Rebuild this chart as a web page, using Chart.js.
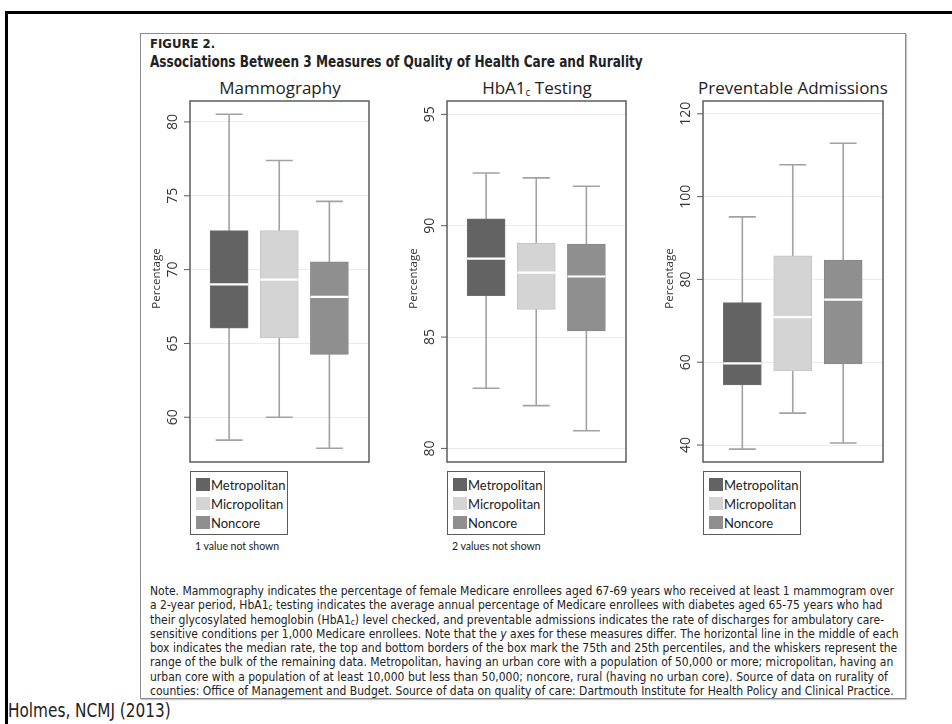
<!DOCTYPE html>
<html>
<head>
<meta charset="utf-8">
<script src="https://cdn.jsdelivr.net/npm/chart.js@4.4.1/dist/chart.umd.min.js"></script>
<style>
  body { margin: 0; width: 952px; height: 724px; background: #fff; position: relative; overflow: hidden; font-family: "Open Sans", sans-serif; color: #222; }
  .abs { position: absolute; }
  #frame-top { left: 5px; top: 11px; width: 947px; height: 3px; background: #000; }
  #frame-left { left: 5px; top: 11px; width: 3px; height: 713px; background: #000; }
  #figure { left: 140px; top: 33px; width: 764px; height: 664px; border: 1px solid #8c8c8c; box-shadow: 1px 1px 1px #c8c8c8; }
  .narrow { font-family: "Liberation Sans Narrow", "DejaVu Sans Condensed", sans-serif; white-space: nowrap; transform-origin: left top; }
  #fig-label { left: 150px; top: 36px; font-size: 13px; font-weight: bold; }
  #fig-title { left: 150px; top: 52px; font-size: 16px; font-weight: bold; transform: scaleX(0.84); }
  .ptitle { top: 76px; width: 240px; text-align: center; font-size: 17px; color: #222; white-space: nowrap; }
  .ptitle sub { font-size: 10px; vertical-align: -2px; }
  canvas { position: absolute; top: 99px; }
  .legend { top: 471px; width: 96px; height: 62px; border: 1.5px solid #5a5a5a; font-family: Lato, sans-serif; font-size: 13px; }
  .legend div { position: absolute; left: 20px; height: 16px; line-height: 16px; white-space: nowrap; }
  .legend span { position: absolute; left: -15px; top: 1px; width: 14px; height: 13px; }
  .foot { top: 540px; font-size: 10.5px; font-family: Lato, sans-serif; }
  #note { left: 150px; top: 584px; font-size: 12px; line-height: 14.3px; color: #222; }
  #note sub { font-size: 8px; vertical-align: -1px; line-height: 0; }
  #source { left: 8px; top: 698px; font-size: 20px; transform: scaleX(0.85); }
</style>
</head>
<body>
<div id="frame-top" class="abs"></div>
<div id="frame-left" class="abs"></div>
<div id="figure" class="abs"></div>
<div id="fig-label" class="abs narrow">FIGURE 2.</div>
<div id="fig-title" class="abs narrow">Associations Between 3 Measures of Quality of Health Care and Rurality</div>

<div class="abs ptitle" style="left:160px">Mammography</div>
<div class="abs ptitle" style="left:417px">HbA1<sub>c</sub> Testing</div>
<div class="abs ptitle" style="left:673px">Preventable Admissions</div>

<canvas id="mammo" width="241" height="365" style="left:130px"></canvas>
<canvas id="hba" width="241" height="365" style="left:387px"></canvas>
<canvas id="adm" width="242" height="365" style="left:643px"></canvas>

<div class="abs legend" style="left:190px" id="leg1"></div>
<div class="abs legend" style="left:447px" id="leg2"></div>
<div class="abs legend" style="left:703px" id="leg3"></div>
<div class="abs foot" style="left:195px">1 value not shown</div>
<div class="abs foot" style="left:452px">2 values not shown</div>

<div id="note" class="abs narrow">
Note. Mammography indicates the percentage of female Medicare enrollees aged 67-69 years who received at least 1 mammogram over<br>
a 2-year period, HbA1<sub>c</sub> testing indicates the average annual percentage of Medicare enrollees with diabetes aged 65-75 years who had<br>
their glycosylated hemoglobin (HbA1<sub>c</sub>) level checked, and preventable admissions indicates the rate of discharges for ambulatory care-<br>
sensitive conditions per 1,000 Medicare enrollees. Note that the <i>y</i> axes for these measures differ. The horizontal line in the middle of each<br>
box indicates the median rate, the top and bottom borders of the box mark the 75th and 25th percentiles, and the whiskers represent the<br>
range of the bulk of the remaining data. Metropolitan, having an urban core with a population of 50,000 or more; micropolitan, having an<br>
urban core with a population of at least 10,000 but less than 50,000; noncore, rural (having no urban core). Source of data on rurality of<br>
counties: Office of Management and Budget. Source of data on quality of care: Dartmouth Institute for Health Policy and Clinical Practice.
</div>
<div id="source" class="abs narrow">Holmes, NCMJ (2013)</div>

<script>
const groups = ['Metropolitan', 'Micropolitan', 'Noncore'];
const groupX = [1, 2, 3];
const groupColors = ['#636363', '#d4d4d4', '#8f8f8f'];
const groupBorders = ['#6f6f6f', '#c4c4c4', '#878787'];

// Mammography, percentage
const mammoLow = [58.45, 60.0, 57.9];
const mammoQ1 = [66.03, 65.38, 64.26];
const mammoMedian = [69.0, 69.32, 68.16];
const mammoQ3 = [72.64, 72.64, 70.52];
const mammoHigh = [80.52, 77.39, 74.62];
const mammoTicks = [60, 65, 70, 75, 80];

// HbA1c testing, percentage
const hbaLow = [82.7, 81.92, 80.79];
const hbaQ1 = [86.86, 86.24, 85.28];
const hbaMedian = [88.52, 87.89, 87.72];
const hbaQ3 = [90.31, 89.21, 89.18];
const hbaHigh = [92.37, 92.15, 91.77];
const hbaTicks = [80, 85, 90, 95];

// Preventable admissions per 1,000
const admLow = [39.0, 47.7, 40.5];
const admQ1 = [54.5, 57.9, 59.6];
const admMedian = [59.7, 70.9, 75.1];
const admQ3 = [74.4, 85.7, 84.7];
const admHigh = [95.1, 107.7, 112.9];
const admTicks = [40, 60, 80, 100, 120];

function buildLegend(id) {
  const box = document.getElementById(id);
  groups.forEach(function (name, i) {
    const row = document.createElement('div');
    row.style.top = (5 + i * 19) + 'px';
    row.innerHTML = '<span style="background:' + groupColors[i] + '"></span>' + name;
    box.appendChild(row);
  });
}
['leg1', 'leg2', 'leg3'].forEach(buildLegend);

const boxExtras = {
  id: 'boxExtras',
  beforeDatasetsDraw(chart, args, opts) {
    const { ctx, scales: { x, y } } = chart;
    ctx.save();
    ctx.strokeStyle = '#a2a2a2';
    ctx.lineWidth = 1.6;
    opts.low.forEach(function (lo, i) {
      const px = x.getPixelForValue(groupX[i]);
      const yl = y.getPixelForValue(lo);
      const yh = y.getPixelForValue(opts.high[i]);
      ctx.beginPath();
      ctx.moveTo(px, yl); ctx.lineTo(px, yh);
      ctx.moveTo(px - 13.5, yl); ctx.lineTo(px + 13.5, yl);
      ctx.moveTo(px - 13.5, yh); ctx.lineTo(px + 13.5, yh);
      ctx.stroke();
    });
    ctx.restore();
  },
  afterDatasetsDraw(chart, args, opts) {
    const { ctx, chartArea: a, scales: { x, y } } = chart;
    ctx.save();
    ctx.strokeStyle = '#ffffff';
    ctx.lineWidth = 2.2;
    opts.median.forEach(function (m, i) {
      const px = x.getPixelForValue(groupX[i]);
      const py = y.getPixelForValue(m);
      ctx.beginPath();
      ctx.moveTo(px - 19, py); ctx.lineTo(px + 19, py);
      ctx.stroke();
    });
    ctx.strokeStyle = '#5c5c5c';
    ctx.lineWidth = 1.5;
    ctx.strokeRect(a.left, a.top, a.right - a.left, a.bottom - a.top);

    ctx.fillStyle = '#333';
    ctx.lineWidth = 1;
    opts.ticks.forEach(function (v) {
      const py = y.getPixelForValue(v);
      ctx.beginPath();
      ctx.moveTo(a.left - 6, py); ctx.lineTo(a.left, py);
      ctx.stroke();
      ctx.save();
      ctx.translate(a.left - 17, py);
      ctx.rotate(-Math.PI / 2);
      ctx.font = '14px "Open Sans"';
      ctx.textAlign = 'center';
      ctx.textBaseline = 'middle';
      ctx.fillText(String(v), 0, 0);
      ctx.restore();
    });
    ctx.save();
    ctx.translate(a.left - 33, (a.top + a.bottom) / 2 - 3);
    ctx.rotate(-Math.PI / 2);
    ctx.font = '11.5px "Open Sans"';
    ctx.textAlign = 'center';
    ctx.textBaseline = 'middle';
    ctx.fillText('Percentage', 0, 0);
    ctx.restore();
    ctx.restore();
  }
};

function makeChart(canvasId, q1, q3, median, low, high, ticks, yMin, yMax) {
  return new Chart(document.getElementById(canvasId), {
    type: 'bar',
    data: {
      datasets: [{
        data: groupX.map(function (gx, i) { return { x: gx, y: [q1[i], q3[i]] }; }),
        backgroundColor: groupColors,
        borderColor: groupBorders,
        borderWidth: 1,
        borderSkipped: false,
        barThickness: 38
      }]
    },
    options: {
      responsive: false,
      animation: false,
      devicePixelRatio: 1,
      layout: { padding: { left: 0, right: 2, top: 2, bottom: 2 } },
      plugins: {
        legend: { display: false },
        tooltip: { enabled: false },
        boxExtras: { low: low, high: high, median: median, ticks: ticks }
      },
      scales: {
        x: { type: 'linear', min: 0.22, max: 3.79, offset: false, display: false },
        y: {
          min: yMin,
          max: yMax,
          afterFit: function (s) { s.width = 60; },
          afterBuildTicks: function (s) { s.ticks = ticks.map(function (v) { return { value: v }; }); },
          ticks: { display: false },
          grid: { color: '#ebebeb', drawTicks: false, lineWidth: 1 },
          border: { display: false }
        }
      }
    },
    plugins: [boxExtras]
  });
}

makeChart('mammo', mammoQ1, mammoQ3, mammoMedian, mammoLow, mammoHigh, mammoTicks, 56.97, 81.42);
makeChart('hba', hbaQ1, hbaQ3, hbaMedian, hbaLow, hbaHigh, hbaTicks, 79.39, 95.6);
makeChart('adm', admQ1, admQ3, admMedian, admLow, admHigh, admTicks, 35.9, 123.1);
</script>
</body>
</html>
